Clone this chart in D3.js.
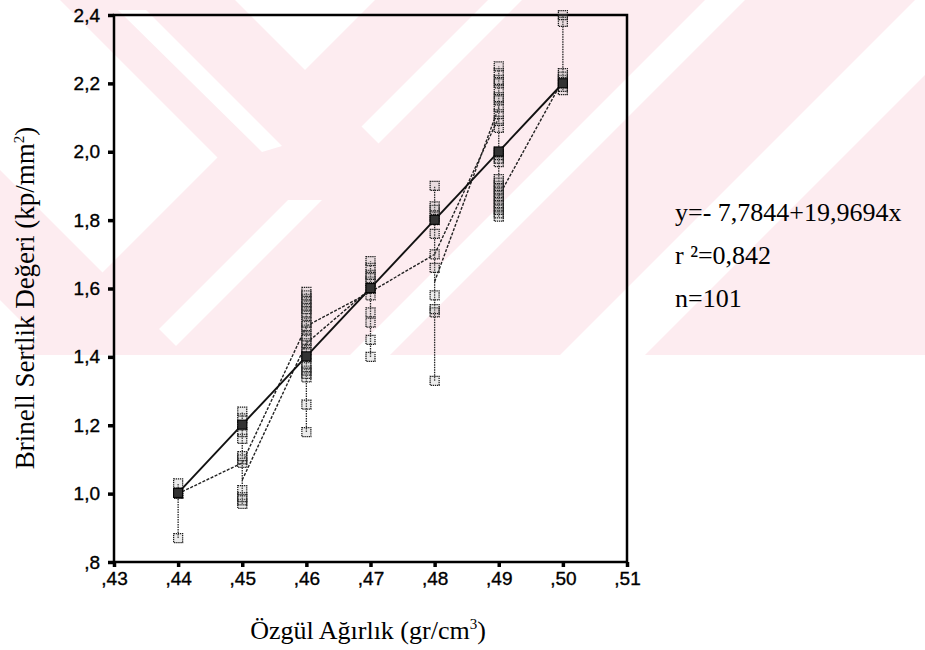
<!DOCTYPE html>
<html>
<head>
<meta charset="utf-8">
<script src="https://cdn.jsdelivr.net/npm/d3@7/dist/d3.min.js"></script>
<style>
  body { margin: 0; background: #fff; }
  svg { display: block; }
</style>
</head>
<body>
<svg id="chart" width="925" height="650"></svg>
<script>
// Specific gravity groups (x) and Brinell hardness readings (y) per group
const densities = [0.44, 0.45, 0.46, 0.47, 0.48, 0.49, 0.50];
const hardness044 = [0.87, 1.00, 1.00, 1.00, 1.03];
const hardness045 = [0.97, 0.98, 0.99, 1.01, 1.09, 1.10, 1.11, 1.16, 1.18, 1.20, 1.22, 1.24];
const hardness046 = [1.18, 1.26, 1.34, 1.35, 1.36, 1.37, 1.38, 1.40, 1.41, 1.42, 1.44, 1.45,
                     1.46, 1.48, 1.49, 1.50, 1.52, 1.53, 1.54, 1.55, 1.56, 1.57, 1.58, 1.59];
const hardness047 = [1.40, 1.45, 1.50, 1.53, 1.58, 1.60, 1.60, 1.62, 1.63, 1.64, 1.66, 1.68];
const hardness048 = [1.33, 1.53, 1.54, 1.58, 1.66, 1.70, 1.76, 1.80, 1.81, 1.83, 1.84, 1.90];
const hardness049 = [1.81, 1.82, 1.83, 1.84, 1.85, 1.86, 1.87, 1.88, 1.89, 1.90, 1.91, 1.92,
                     1.97, 1.98, 1.99, 2.00, 2.00, 2.07, 2.09, 2.11, 2.13, 2.15, 2.16, 2.18,
                     2.20, 2.21, 2.23, 2.25];
const hardness050 = [2.18, 2.19, 2.20, 2.21, 2.22, 2.23, 2.38, 2.40];
const hardnessByGroup = [hardness044, hardness045, hardness046, hardness047,
                         hardness048, hardness049, hardness050];

// Dashed connecting segments between neighbouring groups: [x1, y1, x2, y2]
const connectors = [
  [0.44, 1.00, 0.45, 1.09],
  [0.45, 1.09, 0.46, 1.49],
  [0.45, 1.04, 0.46, 1.44],
  [0.46, 1.49, 0.47, 1.59],
  [0.46, 1.44, 0.47, 1.60],
  [0.47, 1.59, 0.48, 1.70],
  [0.48, 1.70, 0.49, 2.10],
  [0.48, 1.62, 0.49, 2.13],
  [0.49, 1.87, 0.50, 2.21]
];

// Linear fit y = a + b x
const fitIntercept = -7.7844;
const fitSlope = 19.9694;
const fitRange = [0.44, 0.50];
const fitLabels = ["y=- 7,7844+19,9694x", "r \u00B2=0,842", "n=101"];

const xTickValues = [0.43, 0.44, 0.45, 0.46, 0.47, 0.48, 0.49, 0.50, 0.51];
const yTickValues = [0.8, 1.0, 1.2, 1.4, 1.6, 1.8, 2.0, 2.2, 2.4];

const svg = d3.select("#chart");
const W = 925;
const plotLeft = 114, plotRight = 627, plotTop = 15, plotBottom = 562;

// Pale diagonal background bands in the upper part of the page
const bandBottom = 355;
const bandColor = "#fdecf0";
const defs = svg.append("defs");
defs.append("clipPath").attr("id", "bandClip")
  .append("rect").attr("x", 0).attr("y", 0).attr("width", W).attr("height", bandBottom);
const bands = svg.append("g").attr("clip-path", "url(#bandClip)");
const poly = (pts, fill) => bands.append("polygon").attr("points", pts.join(" ")).attr("fill", fill);
// "/" bands given by x + y ranges
[[375, 488], [522, 705], [745, 915], [1000, 1400]].forEach(([c1, c2]) => {
  poly([[c1, 0], [c2, 0], [c2 - bandBottom, bandBottom], [c1 - bandBottom, bandBottom]], bandColor);
});
// "\" bands given by x - y ranges
poly([[60, 0], [235, 0], [435, 200], [260, 200]], bandColor);
poly([[0, 170], [0, 300], [55, 355], [185, 355]], bandColor);
// thin light stripe inside the upper "\" band
poly([[118, 10], [146, 10], [282, 146], [262, 152]], "#ffffff");

const x = d3.scaleLinear().domain([0.43, 0.51]).range([plotLeft, plotRight]);
const y = d3.scaleLinear().domain([0.8, 2.4]).range([plotBottom, plotTop]);

// Comma decimal, no leading zero: ,43  2,4  ,8
const fmtX = d => d3.format(".2f")(d).replace(/^0/, "").replace(".", ",");
const fmtY = d => d3.format(".1f")(d).replace(/^0/, "").replace(".", ",");

// Axes
const xAxis = d3.axisBottom(x).tickValues(xTickValues).tickSize(5).tickPadding(5).tickFormat(fmtX);
const yAxis = d3.axisLeft(y).tickValues(yTickValues).tickSize(6).tickPadding(8).tickFormat(fmtY);

const gx = svg.append("g").attr("transform", `translate(0,${plotBottom})`).call(xAxis);
const gy = svg.append("g").attr("transform", `translate(${plotLeft},0)`).call(yAxis);
[gx, gy].forEach(g => {
  g.select(".domain").remove();
  g.selectAll(".tick line").attr("stroke", "#000").attr("stroke-width", 3.5);
  g.selectAll(".tick text")
    .attr("fill", "#000")
    .attr("stroke", "#000").attr("stroke-width", 0.35)
    .style("font-family", "'Liberation Sans', Arial, sans-serif")
    .style("font-size", "19px");
});

// Frame
svg.append("rect")
  .attr("x", plotLeft).attr("y", plotTop)
  .attr("width", plotRight - plotLeft).attr("height", plotBottom - plotTop)
  .attr("fill", "none").attr("stroke", "#000").attr("stroke-width", 2.5);

const plot = svg.append("g");

// Vertical range line through each group
plot.selectAll("line.range")
  .data(densities)
  .join("line")
  .attr("class", "range")
  .attr("x1", d => x(d)).attr("x2", d => x(d))
  .attr("y1", (d, i) => y(d3.min(hardnessByGroup[i])))
  .attr("y2", (d, i) => y(d3.max(hardnessByGroup[i])))
  .attr("stroke", "#222").attr("stroke-width", 1.3)
  .attr("stroke-dasharray", "1.5,1");

// Dashed connectors
plot.selectAll("line.conn")
  .data(connectors)
  .join("line")
  .attr("class", "conn")
  .attr("x1", d => x(d[0])).attr("y1", d => y(d[1]))
  .attr("x2", d => x(d[2])).attr("y2", d => y(d[3]))
  .attr("stroke", "#222").attr("stroke-width", 1.4)
  .attr("stroke-dasharray", "3,1.5");

// Fit line
const lineGen = d3.line().x(d => x(d[0])).y(d => y(d[1]));
plot.append("path")
  .datum(fitRange.map(d => [d, fitIntercept + fitSlope * d]))
  .attr("d", lineGen)
  .attr("fill", "none").attr("stroke", "#111").attr("stroke-width", 1.9);

// Observations
const points = [];
densities.forEach((d, i) => hardnessByGroup[i].forEach(v => points.push([d, v])));
const s = 9;
plot.selectAll("rect.pt")
  .data(points)
  .join("rect")
  .attr("class", "pt")
  .attr("x", d => x(d[0]) - s / 2)
  .attr("y", d => y(d[1]) - s / 2)
  .attr("width", s).attr("height", s)
  .attr("fill", "rgba(170,170,170,0.22)")
  .attr("stroke", "#1a1a1a").attr("stroke-width", 1.25)
  .attr("stroke-dasharray", "1.3,0.8");

// Fitted values at each group
plot.selectAll("rect.fit")
  .data(densities)
  .join("rect")
  .attr("class", "fit")
  .attr("x", d => x(d) - s / 2)
  .attr("y", d => y(fitIntercept + fitSlope * d) - s / 2)
  .attr("width", s).attr("height", s)
  .attr("fill", "#333").attr("stroke", "#000").attr("stroke-width", 1);

// Axis titles
const serif = "'Liberation Serif', 'Times New Roman', serif";
const xt = svg.append("text")
  .attr("x", 368).attr("y", 639)
  .attr("text-anchor", "middle")
  .style("font-family", serif).style("font-size", "26px");
xt.append("tspan").text("Özgül Ağırlık (gr/cm");
xt.append("tspan").attr("dy", -10).style("font-size", "15px").text("3");
xt.append("tspan").attr("dy", 10).text(")");

const yt = svg.append("text")
  .attr("transform", "translate(34,298) rotate(-90)")
  .attr("text-anchor", "middle")
  .style("font-family", serif).style("font-size", "27px");
yt.append("tspan").text("Brinell Sertlik Değeri (kp/mm");
yt.append("tspan").attr("dy", -10).style("font-size", "15px").text("2");
yt.append("tspan").attr("dy", 10).text(")");

// Fit statistics
svg.selectAll("text.stat")
  .data(fitLabels)
  .join("text")
  .attr("class", "stat")
  .attr("x", 675)
  .attr("y", (d, i) => 221 + i * 43)
  .style("font-family", serif).style("font-size", "26px")
  .text(d => d);
</script>
</body>
</html>
